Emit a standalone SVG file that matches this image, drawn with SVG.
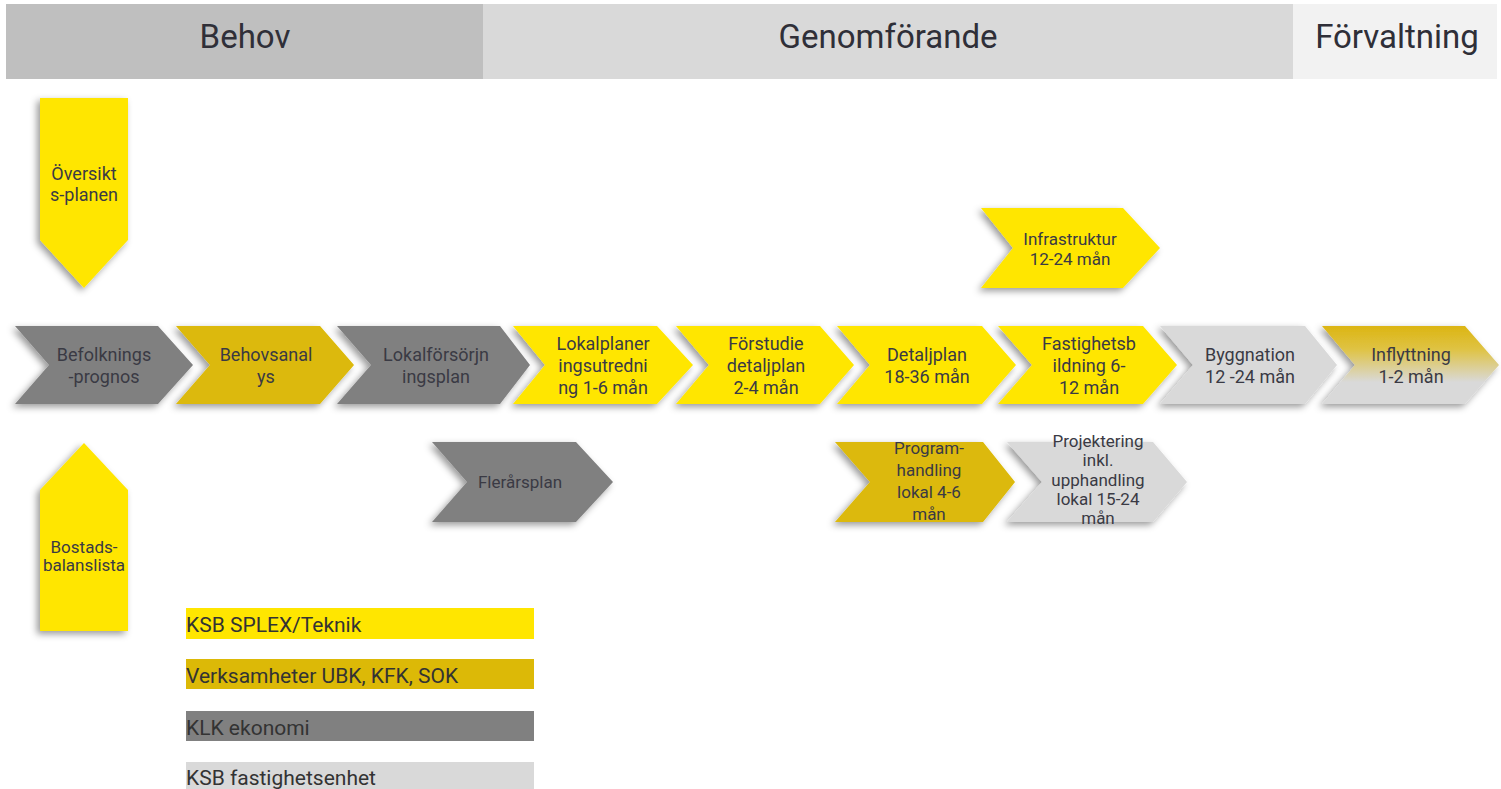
<svg xmlns="http://www.w3.org/2000/svg" width="1501" height="789" viewBox="0 0 1501 789">
<defs>
<filter id="sh" x="-20%" y="-20%" width="140%" height="140%">
<feDropShadow dx="-3" dy="3" stdDeviation="3.5" flood-color="#000" flood-opacity="0.4"/>
</filter>
<linearGradient id="inf" x1="0" y1="0" x2="0" y2="1">
<stop offset="0" stop-color="#dcb512"/>
<stop offset="0.3" stop-color="#dfc344"/>
<stop offset="0.72" stop-color="#d9d9d9"/>
<stop offset="1" stop-color="#d9d9d9"/>
</linearGradient>
</defs>
<style>
.hd{font-family:Roboto,"Liberation Sans",sans-serif;font-size:33px;fill:#2f2f38;text-anchor:middle}
.t{font-family:Roboto,"Liberation Sans",sans-serif;font-size:18px;fill:#3a3a44;text-anchor:middle}
.s{font-family:Roboto,"Liberation Sans",sans-serif;font-size:17px;fill:#3a3a44;text-anchor:middle}
.lg{font-family:Roboto,"Liberation Sans",sans-serif;font-size:21px;fill:#333}
.y{fill:#ffe600}.g{fill:#dcb907}.d{fill:#808080}.l{fill:#d9d9d9}
.shp{filter:url(#sh)}
</style>
<rect width="1501" height="789" fill="#fff"/>
<g id="header">
<rect x="6" y="4" width="477" height="75" fill="#bfbfbf"/>
<rect x="483" y="4" width="810" height="75" fill="#d9d9d9"/>
<rect x="1293" y="4" width="204" height="75" fill="#f2f2f2"/>
<text class="hd" x="245" y="48">Behov</text>
<text class="hd" x="888" y="48">Genomförande</text>
<text class="hd" x="1397" y="48">Förvaltning</text>
</g>
<g id="connectors"></g>
<g id="oversiktsplanen">
<polygon class="y shp" points="40,98 128,98 128,240 84,288 40,240"/>
<text class="t" x="84" y="180">Översikt</text>
<text class="t" x="84" y="201">s-planen</text>
</g>
<g id="bostadsbalanslista">
<polygon class="y shp" points="84,443 128,490 128,631 40,631 40,490"/>
<text class="s" x="84" y="553">Bostads-</text>
<text class="s" x="84" y="571">balanslista</text>
</g>
<g id="befolkningsprognos">
<polygon class="d shp" points="15,326 158,326 193,365 158,404 15,404 49,365"/>
<text class="t" x="104" y="361">Befolknings</text>
<text class="t" x="104" y="383">-prognos</text>
</g>
<g id="behovsanalys">
<polygon class="g shp" points="176,326 320,326 354,365 320,404 176,404 210,365"/>
<text class="t" x="266" y="361">Behovsanal</text>
<text class="t" x="266" y="383">ys</text>
</g>
<g id="lokalforsorjningsplan">
<polygon class="d shp" points="337,326 500,326 530,365 500,404 337,404 371,365"/>
<text class="t" x="436" y="361">Lokalförsörjn</text>
<text class="t" x="436" y="383">ingsplan</text>
</g>
<g id="lokalplaneringsutredning">
<polygon class="y shp" points="513,326 657,326 693,365 657,404 513,404 545,365"/>
<text class="t" x="603" y="350">Lokalplaner</text>
<text class="t" x="603" y="372">ingsutredni</text>
<text class="t" x="603" y="394">ng 1-6 mån</text>
</g>
<g id="forstudie">
<polygon class="y shp" points="676,326 820,326 854,365 820,404 676,404 709,365"/>
<text class="t" x="766" y="350">Förstudie</text>
<text class="t" x="766" y="372">detaljplan</text>
<text class="t" x="766" y="394">2-4 mån</text>
</g>
<g id="detaljplan">
<polygon class="y shp" points="837,326 982,326 1016,365 982,404 837,404 870,365"/>
<text class="t" x="927" y="361">Detaljplan</text>
<text class="t" x="927" y="383">18-36 mån</text>
</g>
<g id="fastighetsbildning">
<polygon class="y shp" points="998,326 1143,326 1177,365 1143,404 998,404 1032,365"/>
<text class="t" x="1089" y="350">Fastighetsb</text>
<text class="t" x="1089" y="372">ildning 6-</text>
<text class="t" x="1089" y="394">12 mån</text>
</g>
<g id="byggnation">
<polygon class="l shp" points="1160,326 1305,326 1337,365 1305,404 1160,404 1193,365"/>
<text class="t" x="1250" y="361">Byggnation</text>
<text class="t" x="1250" y="383">12 -24 mån</text>
</g>
<g id="inflyttning">
<polygon class="shp" fill="url(#inf)" points="1322,326 1465,326 1499,365 1465,404 1322,404 1355,365"/>
<text class="t" x="1411" y="361">Inflyttning</text>
<text class="t" x="1411" y="383">1-2 mån</text>
</g>
<g id="infrastruktur">
<polygon class="y shp" points="981,208 1123,208 1160,248 1123,288 981,288 1013,248"/>
<text class="s" x="1070" y="245">Infrastruktur</text>
<text class="s" x="1070" y="265">12-24 mån</text>
</g>
<g id="flerarsplan">
<polygon class="d shp" points="432,442 576,442 613,482 576,522 432,522 467,482"/>
<text class="s" x="520" y="488">Flerårsplan</text>
</g>
<g id="programhandling">
<polygon class="g shp" points="835,442 983,442 1015,482 983,522 835,522 870,482"/>
<text class="s" x="929" y="454">Program-</text>
<text class="s" x="929" y="476">handling</text>
<text class="s" x="929" y="498">lokal 4-6</text>
<text class="s" x="929" y="520">mån</text>
</g>
<g id="projektering">
<polygon class="l shp" points="1007,442 1153,442 1187,482 1153,522 1007,522 1042,482"/>
<text class="s" x="1098" y="447">Projektering</text>
<text class="s" x="1098" y="466">inkl.</text>
<text class="s" x="1098" y="486">upphandling</text>
<text class="s" x="1098" y="505">lokal 15-24</text>
<text class="s" x="1098" y="524">mån</text>
</g>
<g id="legend">
<rect class="y" x="186" y="608" width="348" height="31"/>
<rect class="g" x="186" y="659" width="348" height="30"/>
<rect class="d" x="186" y="711" width="348" height="30"/>
<rect class="l" x="186" y="762" width="348" height="27"/>
<text class="lg" x="186" y="632">KSB SPLEX/Teknik</text>
<text class="lg" x="186" y="683">Verksamheter UBK, KFK, SOK</text>
<text class="lg" x="186" y="735">KLK ekonomi</text>
<text class="lg" x="186" y="785">KSB fastighetsenhet</text>
</g>
</svg>
